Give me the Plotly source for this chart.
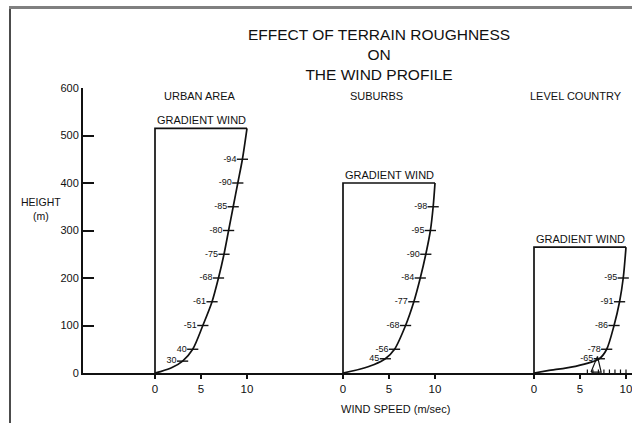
import plotly.graph_objects as go

# ---------------- data ----------------
panels = ["URBAN AREA", "SUBURBS", "LEVEL COUNTRY"]
gradient_label = "GRADIENT WIND"

# wind profile curves: height (m) and wind speed (m/sec)
urban_h = [515, 450, 400, 350, 300, 250, 200, 150, 100, 50, 25, 12, 3, 0]
urban_v = [10.0, 9.5, 9.0, 8.5, 8.0, 7.5, 6.9, 6.2, 5.2, 4.1, 3.0, 1.9, 0.6, 0]
suburbs_h = [400, 350, 300, 250, 200, 150, 100, 50, 30, 18, 8, 0]
suburbs_v = [10.0, 9.8, 9.5, 9.0, 8.4, 7.7, 6.8, 5.6, 4.6, 3.4, 1.8, 0]
level_h = [265, 200, 150, 100, 50, 30, 14, 5, 0]
level_v = [10.0, 9.7, 9.3, 8.7, 7.9, 7.1, 4.5, 1.5, 0]

# percent-of-gradient labels on the curves (height, text)
urban_lab_h = [450, 400, 350, 300, 250, 200, 150, 100, 50, 25]
urban_lab_t = ["-94", "-90", "-85", "-80", "-75", "-68", "-61", "-51", "40", "30"]
suburbs_lab_h = [350, 300, 250, 200, 150, 100, 50, 30]
suburbs_lab_t = ["-98", "-95", "-90", "-84", "-77", "-68", "-56", "45"]
level_lab_h = [200, 150, 100, 50, 30]
level_lab_t = ["-95", "-91", "-86", "-78", "-65"]

speed_ticks = [0, 5, 10]
speed_tick_text = ["0", "5", "10"]
height_ticks = [0, 100, 200, 300, 400, 500, 600]

# little ground sketch in level country (speed, height)
tree_v = [6.2, 6.9, 7.3, 6.2]
tree_h = [2, 35, 2, 2]
ground_marks_v = [5.8, 6.4, 7.0, 7.6, 8.2, 8.8, 9.4, 10.0]

# ---------------- layout geometry ----------------
W, H = 632, 423
ML, MT, MB = 83, 88, 50
PW, PH = W - ML, H - MT - MB
PXU = 9.2                     # px per m/sec
X0 = -(155 - ML) / PXU        # left edge of axis in data units
X1 = X0 + PW / PXU
offsets = [0.0, (343 - 155) / PXU, (534 - 155) / PXU]

def px(x):
    return (x - ML) / PW

def py(y):
    return (H - MB - y) / PH

FONT = "Liberation Sans, Arial, sans-serif"
INK = "#111111"

fig = go.Figure()

curves = [(urban_h, urban_v), (suburbs_h, suburbs_v), (level_h, level_v)]
labels = [(urban_lab_h, urban_lab_t), (suburbs_lab_h, suburbs_lab_t), (level_lab_h, level_lab_t)]

for (hs, vs), (lh, lt), off in zip(curves, labels, offsets):
    top = hs[0]
    # box: ground -> up to gradient height -> across to gradient speed
    fig.add_trace(go.Scatter(x=[off, off, off + vs[0]], y=[0, top, top], mode="lines",
                             line=dict(color=INK, width=1.7), hoverinfo="skip", showlegend=False))
    # profile curve
    fig.add_trace(go.Scatter(x=[off + v for v in vs], y=hs, mode="lines",
                             line=dict(color=INK, width=1.7, shape="spline", smoothing=0.8),
                             hoverinfo="skip", showlegend=False))
    # percent ticks on curve (interpolate along drawn curve points)
    lx = []
    for h in lh:
        v = None
        for i in range(len(hs) - 1):
            if hs[i] >= h >= hs[i + 1]:
                t = (h - hs[i + 1]) / (hs[i] - hs[i + 1]) if hs[i] != hs[i + 1] else 0
                v = vs[i + 1] + t * (vs[i] - vs[i + 1])
                break
        lx.append(off + v)
    fig.add_trace(go.Scatter(x=lx, y=lh, mode="markers+text", text=lt,
                             textposition="middle left",
                             textfont=dict(family=FONT, size=9, color=INK),
                             marker=dict(symbol="line-ew", size=8,
                                         line=dict(color=INK, width=1.4)),
                             hoverinfo="skip", showlegend=False))

# small ground sketch in level country
fig.add_trace(go.Scatter(x=[offsets[2] + v for v in tree_v], y=tree_h, mode="lines",
                         line=dict(color=INK, width=1.2), hoverinfo="skip", showlegend=False))
fig.add_trace(go.Scatter(x=[offsets[2] + v for v in ground_marks_v], y=[0] * len(ground_marks_v),
                         mode="markers", marker=dict(symbol="line-ns", size=5,
                                                      line=dict(color=INK, width=1.2)),
                         hoverinfo="skip", showlegend=False))

tickvals, ticktext = [], []
for off in offsets:
    for v, t in zip(speed_ticks, speed_tick_text):
        tickvals.append(off + v)
        ticktext.append(t)

fig.update_layout(
    width=W, height=H,
    margin=dict(l=ML, r=0, t=MT, b=MB, pad=0),
    paper_bgcolor="white", plot_bgcolor="white",
    showlegend=False,
    xaxis=dict(range=[X0, X1], showgrid=False, zeroline=False, showline=True,
               linecolor=INK, linewidth=2, ticks="outside", ticklen=4, tickwidth=1.5,
               tickcolor=INK, tickvals=tickvals, ticktext=ticktext,
               ticklabeloverflow="allow",
               tickfont=dict(family=FONT, size=11.5, color=INK)),
    yaxis=dict(range=[0, 600], showgrid=False, zeroline=False, showline=True,
               linecolor=INK, linewidth=2, ticks="inside", ticklen=11, tickwidth=2,
               tickcolor=INK, tickvals=height_ticks,
               tickfont=dict(family=FONT, size=11, color=INK)),
)

ann = []
def add_text(x, y, text, size, **kw):
    d = dict(x=px(x), y=py(y), xref="paper", yref="paper", showarrow=False,
             xanchor="center", yanchor="middle", text=text,
             font=dict(family=FONT, size=size, color=INK))
    d.update(kw)
    ann.append(d)

add_text(379, 54, "EFFECT OF TERRAIN ROUGHNESS<br>ON<br>THE WIND PROFILE", 15.5, align="center")
for name, cx in zip(panels, [200, 376, 576]):
    add_text(cx, 96, name, 11)
for (hs, vs), off in zip(curves, offsets):
    ann.append(dict(x=off + vs[0] / 2, y=hs[0], xref="x", yref="y", showarrow=False,
                    xanchor="center", yanchor="bottom", yshift=0, text=gradient_label,
                    font=dict(family=FONT, size=11, color=INK)))
add_text(41, 209, "HEIGHT<br>(m)", 10.5, align="center")
add_text(395, 409, "WIND SPEED (m/sec)", 11)
fig.update_layout(annotations=ann)

# left border line of the scanned page
fig.add_shape(type="line", xref="paper", yref="paper", x0=px(10), x1=px(10), y0=py(8), y1=py(423),
              line=dict(color=INK, width=1.5))

# page setup: no body margin; top grey page border drawn as an overlay strip
post = (
    "document.body.style.margin='0px';"
    "document.body.style.overflow='hidden';"
    "var b=document.createElement('div');"
    "b.style.cssText='position:absolute;left:9px;top:6px;width:623px;height:3px;"
    "background:#808080;pointer-events:none;z-index:10;';"
    "document.body.appendChild(b);"
)
fig.write_html("out.html", config={"displayModeBar": False}, post_script=post)
